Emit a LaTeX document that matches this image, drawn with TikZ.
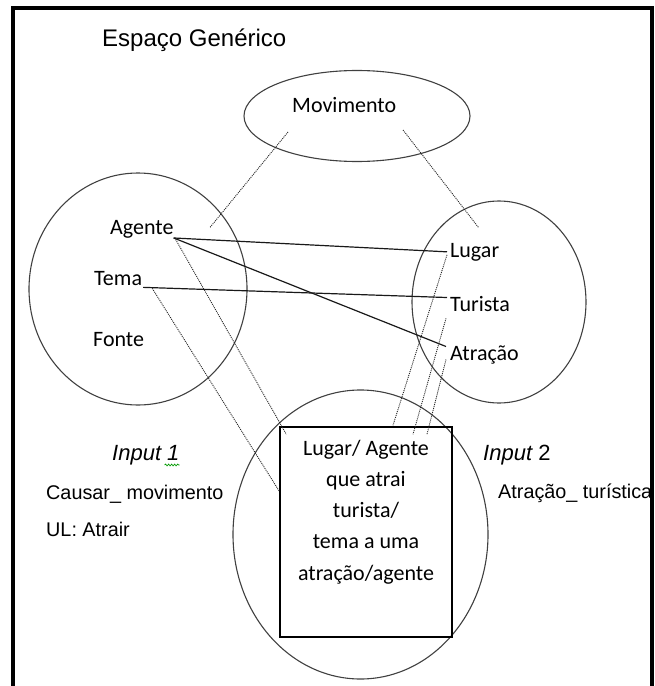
\documentclass[tikz,border=0pt]{standalone}
\usepackage{fontspec}
\setmainfont{Carlito}
\newfontfamily\arialfont{Liberation Sans}
\usetikzlibrary{shapes.geometric,decorations.pathmorphing}

\begin{document}
\begin{tikzpicture}[x=1bp,y=-1bp,
  space/.style={draw=black!75, line width=1.1bp, ellipse, inner sep=0pt},
  term/.style={inner sep=0pt, anchor=base west, font=\fontsize{22bp}{26bp}\selectfont},
  boxline/.style={inner sep=0pt, anchor=base, font=\fontsize{22bp}{26bp}\selectfont},
  note/.style={inner sep=0pt, anchor=base west, font=\arialfont\fontsize{19.8bp}{24bp}\selectfont},
  inputlabel/.style={inner sep=0pt, anchor=base west, font=\arialfont\fontsize{22bp}{26bp}\selectfont},
  link/.style={draw=black!90, line width=1.2bp},
  mapping/.style={draw=black!85, line width=0.9bp, dash pattern=on 1bp off 1bp},
]
\useasboundingbox (0,0) rectangle (655,686);

% outer frame, open at the bottom
\draw[line width=4bp] (13,690) -- (13,8) -- (652,8) -- (652,690);

% title
\node[inner sep=0pt, anchor=base west, font=\arialfont\fontsize{24bp}{28bp}\selectfont] (title) at (102,47) {Espaço Genérico};

% mental spaces
\node[space, minimum width=226bp, minimum height=91bp] (generic) at (357,116) {};
\node[space, minimum width=218bp, minimum height=232bp] (input1) at (138,289) {};
\node[space, minimum width=174bp, minimum height=202bp] (input2) at (499,302) {};
\node[space, minimum width=255bp, minimum height=289bp] (blend) at (360.5,534.5) {};
\node[draw, line width=1.4bp, minimum width=172bp, minimum height=210bp, inner sep=0pt] (blendbox) at (366,532) {};

% elements of the spaces
\node[term] (movimento) at (292,113) {Movimento};
\node[term] (agente) at (110,234) {Agente};
\node[term] (tema) at (94,285) {Tema};
\node[term] (fonte) at (93,346) {Fonte};
\node[term] (lugar) at (450,257) {Lugar};
\node[term] (turista) at (450,311) {Turista};
\node[term] (atracao) at (450,360) {Atração};

\node[boxline] (bl1) at (366,455) {Lugar/ Agente};
\node[boxline] (bl2) at (366,486) {que atrai};
\node[boxline] (bl3) at (366,517) {turista/};
\node[boxline] (bl4) at (366,548) {tema a uma};
\node[boxline] (bl5) at (366,580) {atração/agente};

% frame labels
\node[inputlabel, font=\arialfont\itshape\fontsize{22bp}{26bp}\selectfont] (inputone) at (112,460) {Input 1};
\draw[green!60!black, line width=0.7bp, decorate,
      decoration={snake, amplitude=0.9bp, segment length=3bp}]
  ([shift={(-15,5)}]inputone.base east) -- ([shift={(0,5)}]inputone.base east);
\node[inputlabel] (inputtwo) at (483,460) {\itshape Input\upshape\ 2};
\node[note] (causar) at (46,499) {Causar\_ movimento};
\node[note] (ul) at (46,536) {UL: Atrair};
\node[note] (atracaot) at (498,498) {Atração\_ turística};

% cross-space mappings
\draw[link] (agente.south east) -- ([xshift=-3bp]lugar.west);
\draw[link] (agente.south east) -- ([shift={(-4,-8)}]atracao.west);
\draw[link] ([shift={(1,2)}]tema.south east) -- ([shift={(-3,-6)}]turista.west);

% generic space to the inputs
\draw[mapping] ([shift={(-69,16)}]generic.center) -- ([shift={(36,-1)}]agente.east);
\draw[mapping] ([shift={(46,14)}]generic.center) -- ([shift={(4,-15)}]lugar.north);

% projections into the blend
\draw[mapping] ([shift={(2,1.5)}]agente.south east) -- ([shift={(7,8)}]blendbox.north west);
\draw[mapping] ([shift={(10,3)}]tema.south east) -- ([shift={(0,65)}]blendbox.north west);
\draw[mapping] ([shift={(-3,3)}]lugar.west) -- ([shift={(27,-1)}]blendbox.north);
\draw[mapping] ([shift={(-4,7)}]turista.south west) -- ([shift={(47,8)}]blendbox.north);
\draw[mapping] ([shift={(-4,5)}]atracao.west) -- ([shift={(61,8)}]blendbox.north);
\end{tikzpicture}
\end{document}
